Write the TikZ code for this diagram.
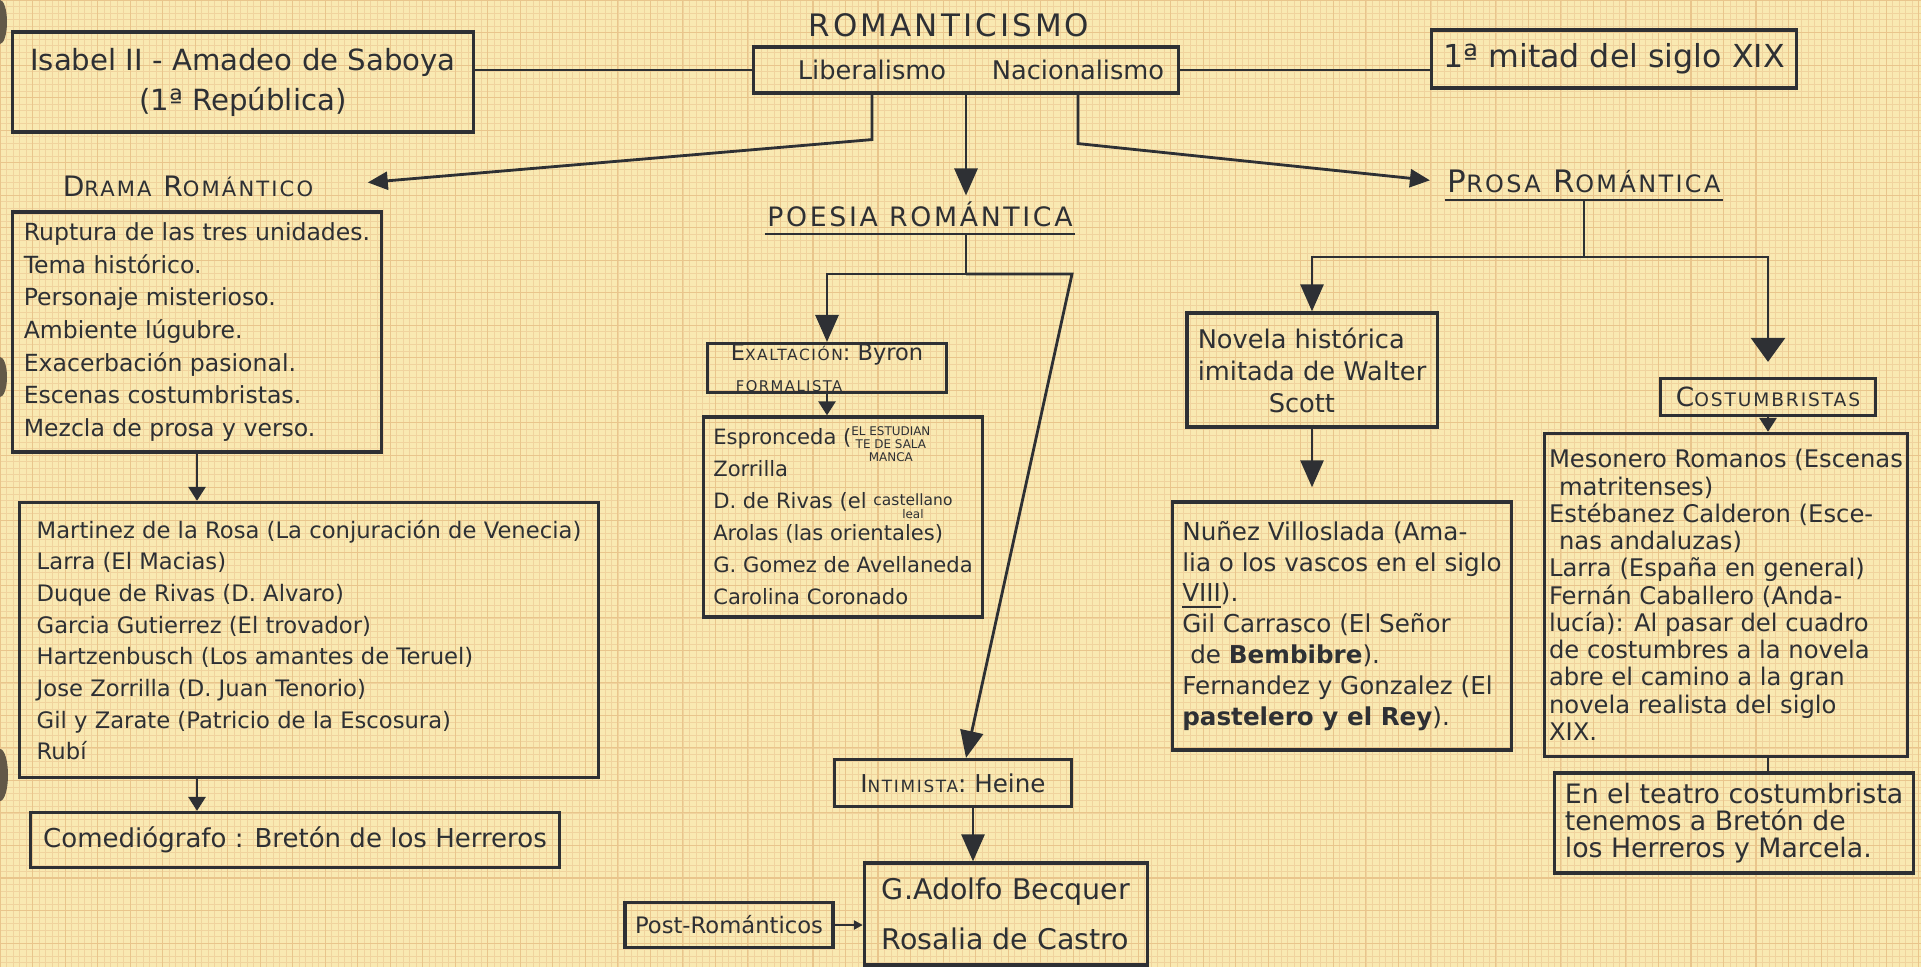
\documentclass[tikz,border=0pt]{standalone}
\usepackage{fontspec}
\setmainfont{DejaVu Sans}
\newfontfamily\spaced[LetterSpace=10]{DejaVu Sans}
\usetikzlibrary{arrows.meta}
\definecolor{paper}{RGB}{249,233,178}
\definecolor{gridc}{RGB}{240,211,158}
\definecolor{gridm}{RGB}{233,197,140}
\definecolor{ink}{RGB}{46,48,52}
\definecolor{hole}{RGB}{98,88,72}
\newcommand\fsz[2]{\fontsize{#1}{#2}\selectfont}
\newcommand\tinycap[3]{#2{\fontsize{#1}{#1}\selectfont #3}}
\newcommand\stackup[2]{\raisebox{#1}[0pt][0pt]{\fsz{3.4}{3.8}\begin{tabular}{@{}c@{}}#2\end{tabular}}}

\begin{document}
\begin{tikzpicture}[x=0.01cm,y=-0.01cm]
\tikzstyle{box}=[draw=ink,line width=0.9pt,text=ink,align=left,inner xsep=0.1cm,inner ysep=0.04cm]
\tikzstyle{head}=[text=ink,anchor=base,inner xsep=0.02cm,inner ysep=0.06cm]
\tikzstyle{word}=[text=ink,font=\fsz{7.3}{9},inner sep=0.05cm]
\tikzstyle{con}=[draw=ink,line width=0.8pt]
\tikzstyle{arr}=[con,-{Triangle[length=0.27cm,width=0.23cm]}]
\tikzstyle{arrm}=[con,-{Triangle[length=0.2cm,width=0.18cm]}]
\tikzstyle{arrb}=[con,-{Triangle[length=0.24cm,width=0.34cm]}]
\tikzstyle{arrs}=[con,-{Triangle[length=0.14cm,width=0.17cm]}]
\tikzstyle{arrt}=[con,-{Triangle[length=0.09cm,width=0.09cm]}]
\useasboundingbox (0,0) rectangle (1921,967);
\fill[paper] (0,0) rectangle (1921,967);
\draw[gridc,line width=0.2pt,step=0.065cm] (0cm,-9.67cm) grid (19.21cm,0cm);
\draw[gridm,line width=0.3pt,step=0.325cm] (0cm,-9.67cm) grid (19.21cm,0cm);
\fill[hole] (0,22) ellipse [x radius=0.07cm,y radius=0.22cm];
\fill[hole] (0,377) ellipse [x radius=0.07cm,y radius=0.2cm];
\fill[hole] (0,775) ellipse [x radius=0.08cm,y radius=0.26cm];

\node[head,font=\spaced\fsz{8.8}{10}] (title) at (949,37) {ROMANTICISMO};
\node[box,minimum width=4.24cm,minimum height=0.46cm] (lib) at (966,70) {};
\node[word] (liberal) at (872,70) {Liberalismo};
\node[word] (nacional) at (1078,70) {Nacionalismo};
\node[box,align=center,minimum width=4.6cm,minimum height=1cm,font=\fsz{8.3}{11.4}] (isabel) at (243,82) {Isabel II - Amadeo de Saboya\\(1ª República)};
\node[box,minimum width=3.64cm,minimum height=0.58cm,font=\fsz{9}{10}] (mitad) at (1614,59) {1ª mitad del siglo XIX};

\node[head,font=\spaced\fsz{8}{9}] (drama) at (188,197) {\tinycap{6}{D}{RAMA} \tinycap{6}{R}{OMÁNTICO}};
\node[head,font=\spaced\fsz{7.6}{9}] (poesia) at (920,227) {POESIA ROMÁNTICA};
\node[head,font=\spaced\fsz{8.8}{10}] (prosa) at (1584,193) {\tinycap{6.8}{P}{ROSA} \tinycap{6.8}{R}{OMÁNTICA}};

\node[box,minimum width=3.69cm,minimum height=2.4cm,font=\fsz{6.7}{9.25}] (dbox) at (197,332) {Ruptura de las tres unidades.\\Tema histórico.\\Personaje misterioso.\\Ambiente lúgubre.\\Exacerbación pasional.\\Escenas costumbristas.\\Mezcla de prosa y verso.};
\node[box,minimum width=5.78cm,minimum height=2.75cm,font=\fsz{6.45}{9}] (mart) at (309,640) {Martinez de la Rosa (La conjuración de Venecia)\\Larra (El Macias)\\Duque de Rivas (D. Alvaro)\\Garcia Gutierrez (El trovador)\\Hartzenbusch (Los amantes de Teruel)\\Jose Zorrilla (D. Juan Tenorio)\\Gil y Zarate (Patricio de la Escosura)\\Rubí};
\node[box,minimum width=5.29cm,minimum height=0.55cm,font=\fsz{7.4}{9}] (comedio) at (295,840) {Comediógrafo : Bretón de los Herreros};

\node[box,minimum width=2.39cm,minimum height=0.47cm,inner ysep=0.01cm,font=\fsz{6.4}{8.6}] (exalt) at (827,368) {{\spaced\tinycap{4.4}{E}{XALTACIÓN}}: Byron\\{\spaced\fsz{4.2}{5}\hspace*{0.05cm}FORMALISTA}};
\node[box,minimum width=2.67cm,minimum height=2cm,font=\fsz{6}{9.1}] (esp) at (843,517) {Espronceda (\stackup{-1.5pt}{EL ESTUDIAN\\TE DE SALA\\MANCA}\\Zorrilla\\D. de Rivas (el \stackup{-1pt}{\fsz{4.4}{4.6}castellano\\leal}\\Arolas (las orientales)\\G. Gomez de Avellaneda\\Carolina Coronado};
\node[box,minimum width=2.37cm,minimum height=0.47cm,font=\fsz{7}{8}] (intim) at (953,783) {{\spaced\tinycap{4.8}{I}{NTIMISTA}}: Heine};
\node[box,minimum width=2.83cm,minimum height=1.02cm,font=\fsz{8.1}{14.2}] (becq) at (1006,914) {G.Adolfo Becquer\\Rosalia de Castro};
\node[box,minimum width=2.05cm,minimum height=0.45cm,font=\fsz{6.45}{8}] (post) at (729,925) {Post-Románticos};

\node[box,minimum width=2.5cm,minimum height=1.14cm,font=\fsz{7.3}{9.1}] (novela) at (1312,370) {Novela histórica\\imitada de Walter\\\hspace*{0.71cm}Scott};
\node[box,minimum width=3.39cm,minimum height=2.48cm,font=\fsz{7}{8.8}] (nunez) at (1342,626) {Nuñez Villoslada (Ama-\\lia o los vascos en el siglo\\\underline{VIII}).\\Gil Carrasco (El Señor\\\hspace*{0.08cm}de \textbf{Bembibre}).\\Fernandez y Gonzalez (El\\\textbf{pastelero y el Rey}).};
\node[box,minimum width=2.15cm,minimum height=0.37cm,font=\spaced\fsz{7.5}{8}] (cost) at (1768,397) {\tinycap{5.3}{C}{OSTUMBRISTAS}};
\node[box,minimum width=3.63cm,minimum height=3.23cm,inner xsep=0.04cm,font=\fsz{6.9}{7.75}] (big) at (1726,595) {Mesonero Romanos (Escenas\\\hspace*{0.1cm}matritenses)\\Estébanez Calderon (Esce-\\\hspace*{0.1cm}nas andaluzas)\\Larra (España en general)\\Fernán Caballero (Anda-\\lucía): Al pasar del cuadro\\de costumbres a la novela\\abre el camino a la gran\\novela realista del siglo\\XIX.};
\node[box,minimum width=3.48cm,minimum height=1cm,font=\fsz{7.6}{7.6}] (last) at (1734,823) {En el teatro costumbrista\\tenemos a Bretón de\\los Herreros y Marcela.};

\draw[con] (lib.west) -- (lib.west -| isabel.east);
\draw[con] (lib.east) -- (lib.east -| mitad.west);
\draw[arrm,shorten >=0.52cm] (liberal.south |- lib.south) -- ++(0,45) -- (drama.east);
\draw[arr] (lib.south) -- (lib.south |- poesia.north);
\draw[arrm,shorten >=0.15cm] (nacional.south |- lib.south) -- ++(0,49) -- (prosa.west);
\draw[con] (poesia.south west) -- (poesia.south east);
\draw[con] (prosa.south west) -- (prosa.south east);

\draw[arrs] (dbox.south) -- (dbox.south |- mart.north);
\draw[arrs] (mart.south -| dbox.south) -- (comedio.north -| dbox.south);

\draw[arr] (poesia.south -| lib.south) -- ++(0,40) coordinate (pfork) -| (exalt.north);
\draw[arr] (pfork) -- ++(106,0) -- ([xshift=0.13cm]intim.north);
\draw[arrs] (exalt.south) -- (exalt.south |- esp.north);
\draw[arr] ([xshift=0.2cm]intim.south) -- ([xshift=0.2cm]intim.south |- becq.north);
\draw[arrt] (post.east) -- (post.east -| becq.west);

\draw[con] (prosa.south) -- ++(0,57) coordinate (sfork);
\draw[arr] (sfork) -| (novela.north);
\draw[arrb,shorten >=0.15cm] (sfork) -| (cost.north);
\draw[arr,shorten >=0.13cm] (novela.south) -- (novela.south |- nunez.north);
\draw[arrs] (cost.south) -- (cost.south |- big.north);
\draw[con] (big.south -| cost.south) -- (last.north -| cost.south);
\end{tikzpicture}
\end{document}
